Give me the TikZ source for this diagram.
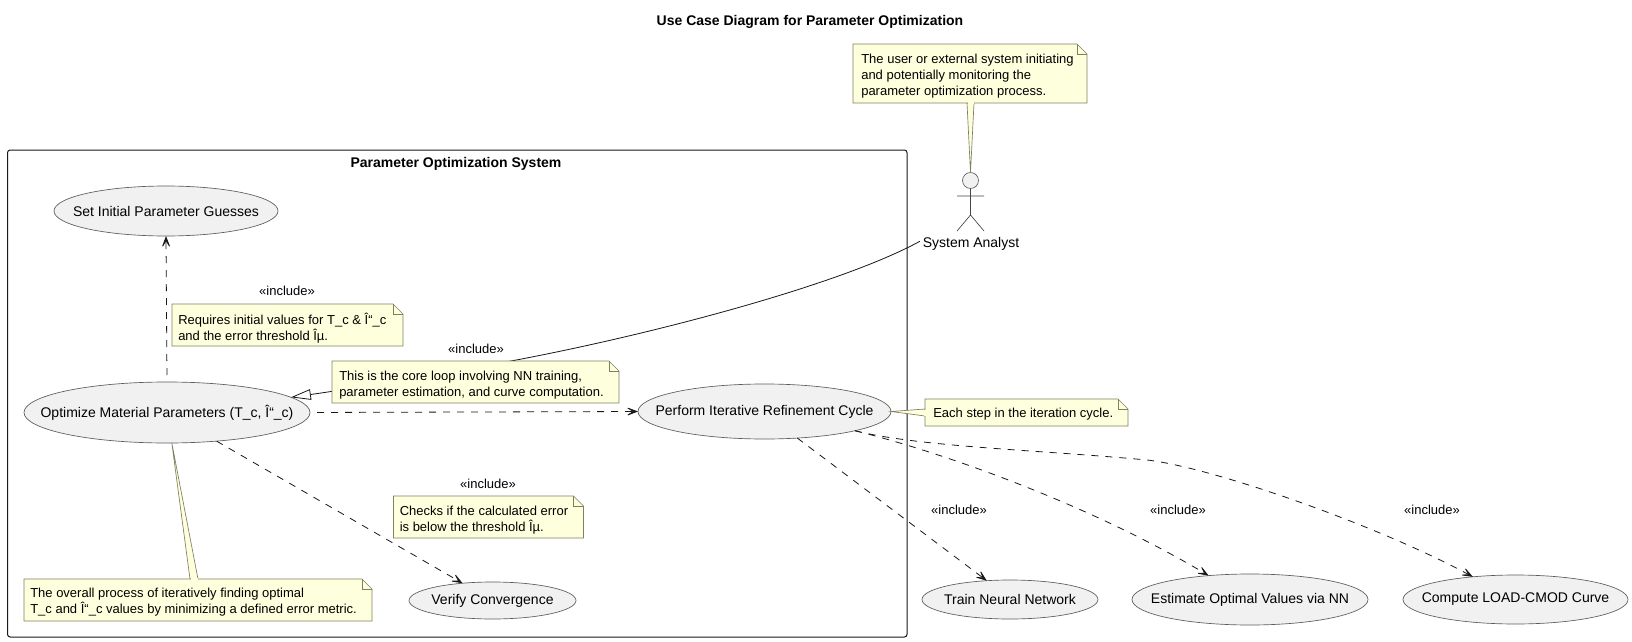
\documentclass[tikz,border=0pt]{standalone}
\usepackage{fontspec}
\setmainfont{Liberation Sans}
\usetikzlibrary{arrows.meta,shapes.geometric}
\definecolor{notefill}{HTML}{FEFFDD}
\definecolor{ucfill}{HTML}{F1F1F1}
\definecolor{linec}{HTML}{181818}
\definecolor{noteline}{HTML}{808060}
\tikzset{
  x=0.75pt,y=-0.75pt,
  ucase/.style={ellipse,draw=linec!70!white,fill=ucfill,line width=0.5pt,inner sep=0pt,outer sep=0pt,font=\fontsize{10.5pt}{12pt}\selectfont},
  lab/.style={font=\fontsize{9.75pt}{11pt}\selectfont,inner sep=0pt},
  notetext/.style={font=\fontsize{9.75pt}{12pt}\selectfont,align=left,inner sep=0pt,anchor=north west},
  incl/.style={draw=linec,line width=0.6pt,dash pattern=on 5.25pt off 5.25pt,-{Stealth[length=10.5pt,width=8pt,inset=6.5pt]}},
  notebox/.style={draw=noteline,fill=notefill,line width=0.5pt},
}
\newcommand{\uctext}[1]{\makebox[0pt]{#1}}
\newcommand{\notepoly}[5]{% left top right bottom name
  \draw[notebox] (#1,#2) -- (#3-10,#2) -- (#3,#2+10) -- (#3,#4) -- (#1,#4) -- cycle;
  \draw[notebox,fill=none] (#3-10,#2) -- (#3-10,#2+10) -- (#3,#2+10);
  \coordinate (#5) at (#1,#2);
}
\begin{document}
\begin{tikzpicture}
\useasboundingbox (0,0) rectangle (1632,642);
\fill[white] (0,0) rectangle (1632,642);
\node[font=\bfseries\fontsize{10.5pt}{12pt}\selectfont,inner sep=0pt] (title) at (810,22) {Use Case Diagram for Parameter Optimization};
% system
\draw[linec,line width=0.75pt,rounded corners=2pt] (7.5,150) rectangle (907,637);
\node[font=\bfseries\fontsize{10.5pt}{12pt}\selectfont,inner sep=0pt] (systitle) at (456,164) {Parameter Optimization System};
% use cases
\node[ucase,minimum width=168pt,minimum height=37.5pt] (init) at (166,211) {\uctext{Set Initial Parameter Guesses}};
\node[ucase,minimum width=214.5pt,minimum height=45.75pt] (opt) at (167,412.5) {\uctext{Optimize Material Parameters (T\_c, Î“\_c)}};
\node[ucase,minimum width=189.75pt,minimum height=41.25pt] (perf) at (764.5,411.5) {\uctext{Perform Iterative Refinement Cycle}};
\node[ucase,minimum width=125.25pt,minimum height=27.75pt] (verify) at (492.5,600.5) {\uctext{Verify Convergence}};
\node[ucase,minimum width=132pt,minimum height=29.25pt] (train) at (1010,599.5) {\uctext{Train Neural Network}};
\node[ucase,minimum width=177pt,minimum height=38.25pt] (est) at (1250,599.5) {\uctext{Estimate Optimal Values via NN}};
\node[ucase,minimum width=168.75pt,minimum height=36.75pt] (comp) at (1515.5,599.5) {\uctext{Compute LOAD-CMOD Curve}};
% actor
\node[circle,draw=linec!70!white,fill=ucfill,line width=0.5pt,minimum size=12pt,inner sep=0pt,outer sep=0pt] (head) at (970.5,180.5) {};
\coordinate (crotch) at (970.5,215);
\coordinate (armL) at (957,196);
\coordinate (armR) at (984,196);
\coordinate (legL) at (957,231);
\coordinate (legR) at (984,231);
\draw[linec!80!white,line width=0.5pt] (head.south) -- (crotch) (armL) -- (armR) (legL) -- (crotch) -- (legR);
\node[inner ysep=0pt,inner xsep=2pt,font=\fontsize{10.5pt}{12pt}\selectfont] (analyst) at (971,244) {System Analyst};
% connectors
\draw[incl,dash phase=5.25pt] (opt.north) -- (init.south);
\draw[incl,dash phase=5.25pt] (opt.east) -- (perf.west);
\draw[incl] (opt.-30) -- (verify.150);
\draw[incl] (perf.-39) -- (train.141);
\draw[incl] (perf.-12) .. controls (945,453) and (1090,505) .. (est.150);
\draw[incl] (perf.-12) .. controls (920,447) and (1040,450) .. (1147,460) .. controls (1210,467) and (1375,524) .. (comp.152);
\draw[linec,line width=0.6pt,-{Triangle[open,fill=white,length=15pt,width=8pt]}] (analyst.177.6) .. controls (840,285) and (650,335) .. (511,361) .. controls (420,377) and (350,389) .. (opt.7.6);
% labels
\node[lab] (l1) at (287,291) {«include»};
\node[lab] (l2) at (476,349) {«include»};
\node[lab] (l3) at (488,484) {«include»};
\node[lab] (l4) at (959,510) {«include»};
\node[lab] (l5) at (1178,510) {«include»};
\node[lab] (l6) at (1432,510) {«include»};
% notes
\draw[notebox] (967,103) -- (head.north) -- (974,103) -- cycle;
\notepoly{853}{44}{1087}{103}{n1}
\draw[draw=notefill,line width=0.8pt] (967.5,103) -- (973.5,103);
\node[notetext] (n1t) at (861,54) {The user or external system initiating\\and potentially monitoring the\\parameter optimization process.};
\notepoly{172}{304}{403}{346}{n2}
\node[notetext] (n2t) at (178,313) {Requires initial values for T\_c \& Î“\_c\\and the error threshold Îµ.};
\notepoly{332}{361}{619}{403}{n3}
\node[notetext] (n3t) at (339,371) {This is the core loop involving NN training,\\parameter estimation, and curve computation.};
\draw[notebox] (perf.east) -- (925,409) -- (925,416) -- cycle;
\notepoly{925}{399}{1128}{426}{n4}
\draw[draw=notefill,line width=0.8pt] (925,409.5) -- (925,415.5);
\node[notetext] (n4t) at (933,408) {Each step in the iteration cycle.};
\notepoly{393.5}{496}{583.5}{538}{n5}
\node[notetext] (n5t) at (399.5,506) {Checks if the calculated error\\is below the threshold Îµ.};
\draw[notebox] (opt.-81) -- (190,579) -- (198,579) -- cycle;
\notepoly{24}{579}{372}{621}{n6}
\draw[draw=notefill,line width=0.8pt] (190.5,579) -- (197.5,579);
\node[notetext] (n6t) at (30,588) {The overall process of iteratively finding optimal\\T\_c and Î“\_c values by minimizing a defined error metric.};
\end{tikzpicture}
\end{document}
